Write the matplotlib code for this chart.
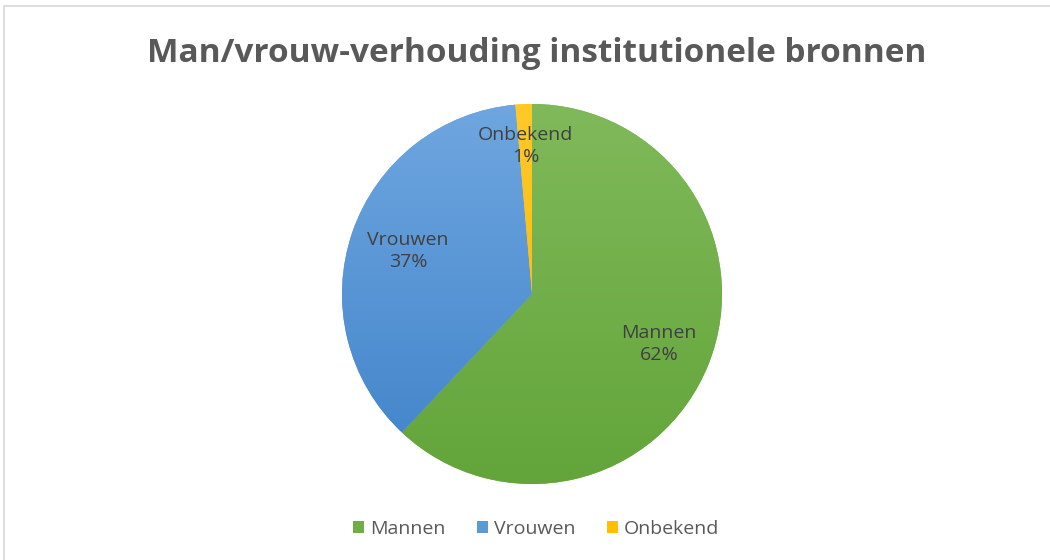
import numpy as np
import matplotlib
matplotlib.use("Agg")
import matplotlib.pyplot as plt
from matplotlib.patches import Patch, Rectangle
from matplotlib.colors import LinearSegmentedColormap

# data
categories = ["Mannen", "Vrouwen", "Onbekend"]
shares = [62.0, 36.6, 1.4]
label_dist = [0.72, 0.69, 0.78]
# top / bottom colours of the Excel-like gradient fill
top_colors = ["#80b95a", "#6fa6e0", "#ffc928"]
bottom_colors = ["#63a53a", "#3f83c9", "#f4b400"]
legend_colors = ["#70ad47", "#5b9bd5", "#ffc000"]
title = "Man/vrouw-verhouding institutionele bronnen"

plt.rcParams["font.family"] = ["Open Sans", "DejaVu Sans"]

fig = plt.figure(figsize=(10.5, 5.6), dpi=100)

# thin grey frame (only top and left edges show in the crop)
fig.patches.append(Rectangle((4 / 1050, -0.1), 1.2, (560 - 6) / 560 + 0.1,
                             transform=fig.transFigure, fill=False,
                             edgecolor="#d9d9d9", linewidth=1.2))

fig.text(0.511, 0.905, title, ha="center", va="center", fontsize=24,
         fontweight="bold", color="#595959")

ax = fig.add_axes([(532 - 190) / 1050, (560 - 484) / 560, 380 / 1050, 380 / 560])
wedges, _ = ax.pie(shares, startangle=90, counterclock=False,
                   colors=legend_colors, radius=1.0)

grad = np.linspace(1, 0, 256).reshape(-1, 1)
for w, c_top, c_bot in zip(wedges, top_colors, bottom_colors):
    cmap = LinearSegmentedColormap.from_list("g", [c_bot, c_top])
    im = ax.imshow(grad, extent=[-1, 1, -1, 1], cmap=cmap, aspect="auto",
                   origin="upper", zorder=2)
    im.set_clip_path(w)

# data labels
total = sum(shares)
start = 0.0
for name, val, d in zip(categories, shares, label_dist):
    mid = np.deg2rad((start + val / 2) / total * 360)
    start += val
    x, y = d * np.sin(mid), d * np.cos(mid)
    ax.text(x, y, f"{name}\n{round(val / total * 100)}%", ha="center",
            va="center", fontsize=14, color="#404040", linespacing=1.3,
            zorder=5)

ax.set_xlim(-1, 1)
ax.set_ylim(-1, 1)
ax.set_aspect("equal")
ax.axis("off")

handles = [Patch(facecolor=c, edgecolor="none") for c in legend_colors]
fig.legend(handles, categories, loc="center", bbox_to_anchor=(536 / 1050, 1 - 529 / 560),
           ncol=3, frameon=False, fontsize=14, handlelength=0.6,
           handleheight=0.6, handletextpad=0.3, columnspacing=1.6,
           labelcolor="#595959")

fig.savefig("out.png", dpi=100)
